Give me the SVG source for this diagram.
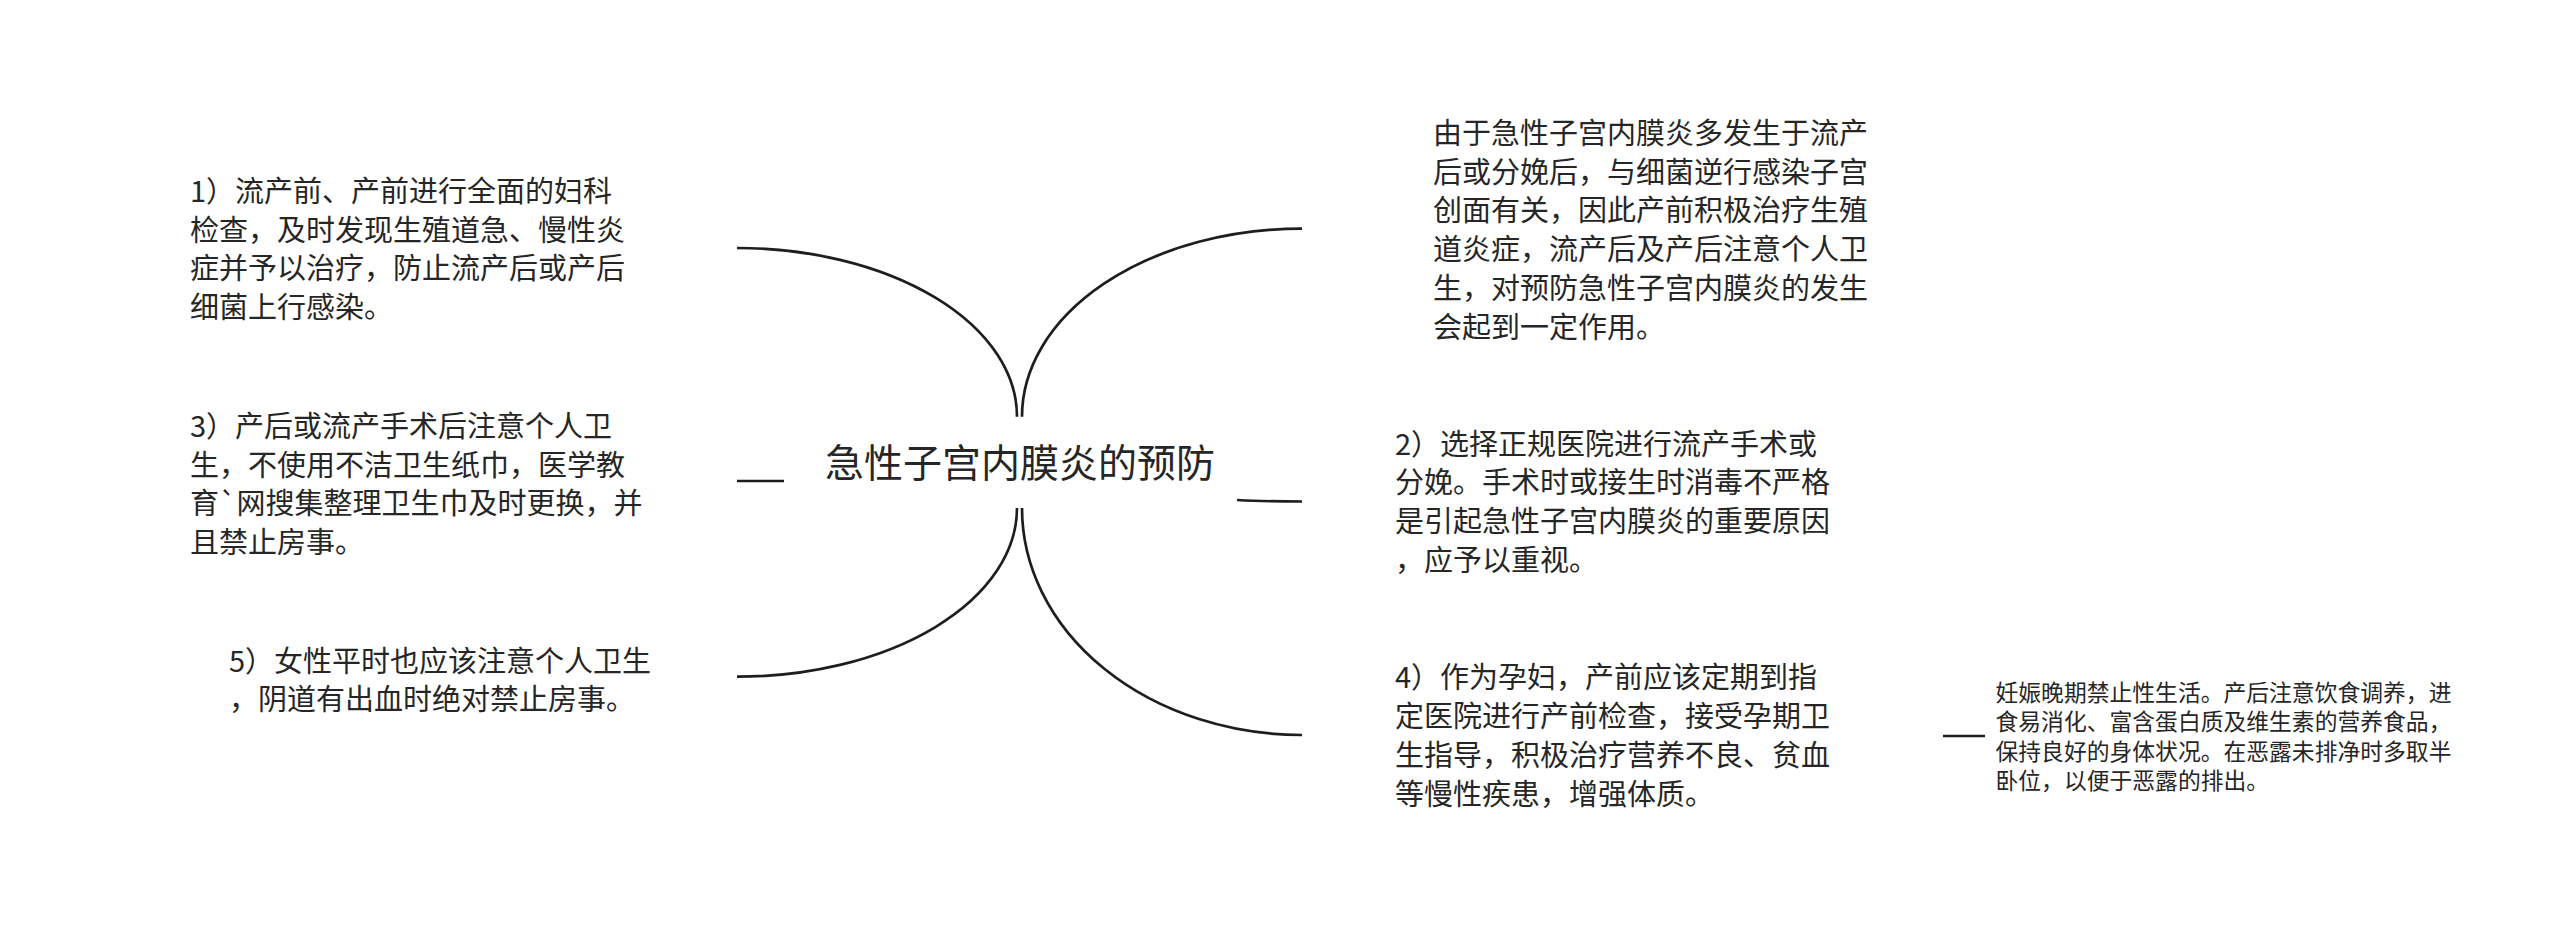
<svg xmlns="http://www.w3.org/2000/svg" width="2560" height="926" viewBox="0 0 2560 926">
<style>
.bg{fill:#ffffff}
.t{font-family:"Noto Sans CJK SC","Noto Sans",sans-serif;fill:#262626;font-size:29px}
.title{font-size:39px}
.small{font-size:22.8px}
.c{fill:none;stroke:#1e1e1e;stroke-width:2.7;stroke-linecap:butt}
</style>
<rect class="bg" x="0" y="0" width="2560" height="926"/>
<g id="connectors">
<path class="c" d="M 737 248 A 280 168.7 0 0 1 1017 416.7"/>
<path class="c" d="M 1022 416.7 A 280 188 0 0 1 1302 228.6"/>
<path class="c" d="M 1017 508 A 280 168.7 0 0 1 737 676.7"/>
<path class="c" d="M 1022 508 A 280 227 0 0 0 1302 735"/>
<path class="c" d="M 737 481 L 784 481"/>
<path class="c" d="M 1237 500 Q 1262 501.5 1302 501.5"/>
<path class="c" d="M 1943 736 L 1985 736"/>
</g>
<g id="root">
<text class="t title" x="825" y="477">急性子宫内膜炎的预防</text>
</g>
<g id="node-1">
<text class="t"><tspan x="190" y="201.8">1）流产前、产前进行全面的妇科</tspan><tspan x="190" y="240.5">检查，及时发现生殖道急、慢性炎</tspan><tspan x="190" y="279.2">症并予以治疗，防止流产后或产后</tspan><tspan x="190" y="317.9">细菌上行感染。</tspan></text>
</g>
<g id="node-3">
<text class="t"><tspan x="190" y="437">3）产后或流产手术后注意个人卫</tspan><tspan x="190" y="475.7">生，不使用不洁卫生纸巾，医学教</tspan><tspan x="190" y="514.4">育`网搜集整理卫生巾及时更换，并</tspan><tspan x="190" y="553.1">且禁止房事。</tspan></text>
</g>
<g id="node-5">
<text class="t"><tspan x="229" y="671.7">5）女性平时也应该注意个人卫生</tspan><tspan x="229" y="709.9">，阴道有出血时绝对禁止房事。</tspan></text>
</g>
<g id="node-0">
<text class="t"><tspan x="1433" y="144">由于急性子宫内膜炎多发生于流产</tspan><tspan x="1433" y="182.7">后或分娩后，与细菌逆行感染子宫</tspan><tspan x="1433" y="221.4">创面有关，因此产前积极治疗生殖</tspan><tspan x="1433" y="260.1">道炎症，流产后及产后注意个人卫</tspan><tspan x="1433" y="298.8">生，对预防急性子宫内膜炎的发生</tspan><tspan x="1433" y="337.5">会起到一定作用。</tspan></text>
</g>
<g id="node-2">
<text class="t"><tspan x="1395" y="454.5">2）选择正规医院进行流产手术或</tspan><tspan x="1395" y="493.2">分娩。手术时或接生时消毒不严格</tspan><tspan x="1395" y="531.9">是引起急性子宫内膜炎的重要原因</tspan><tspan x="1395" y="570.6">，应予以重视。</tspan></text>
</g>
<g id="node-4">
<text class="t"><tspan x="1395" y="687.5">4）作为孕妇，产前应该定期到指</tspan><tspan x="1395" y="726.5">定医院进行产前检查，接受孕期卫</tspan><tspan x="1395" y="765.5">生指导，积极治疗营养不良、贫血</tspan><tspan x="1395" y="804.5">等慢性疾患，增强体质。</tspan></text>
</g>
<g id="node-4-1">
<text class="t small"><tspan x="1995.5" y="701.2">妊娠晚期禁止性生活。产后注意饮食调养，进</tspan><tspan x="1995.5" y="730.4">食易消化、富含蛋白质及维生素的营养食品，</tspan><tspan x="1995.5" y="759.6">保持良好的身体状况。在恶露未排净时多取半</tspan><tspan x="1995.5" y="788.8">卧位，以便于恶露的排出。</tspan></text>
</g>
</svg>
